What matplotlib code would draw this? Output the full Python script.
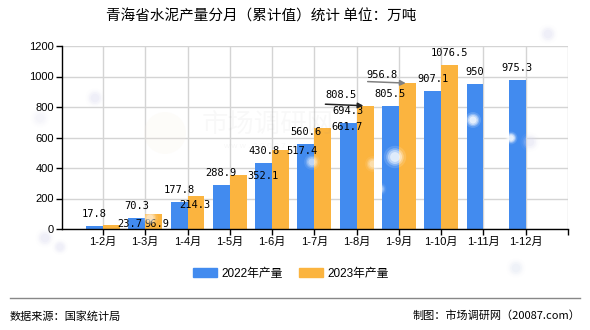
import numpy as np
import matplotlib
matplotlib.use("Agg")
import matplotlib.pyplot as plt
from matplotlib.patches import Rectangle, Ellipse

plt.rcParams['font.family'] = ['Liberation Sans', 'Noto Sans CJK SC', 'DejaVu Sans']

# ---- data -------------------------------------------------------------
months = ['1-2月', '1-3月', '1-4月', '1-5月', '1-6月', '1-7月',
          '1-8月', '1-9月', '1-10月', '1-11月', '1-12月']
prod_2022 = [17.8, 70.3, 177.8, 288.9, 430.8, 560.6, 694.3, 805.5, 907.1, 950, 975.3]
prod_2023 = [23.7, 96.9, 214.3, 352.1, 517.4, 661.7, 808.5, 956.8, 1076.5, np.nan, np.nan]
series_names = ['2022年产量', '2023年产量']
y_ticks = [0, 200, 400, 600, 800, 1000, 1200]

title = '青海省水泥产量分月（累计值）统计 单位：万吨'
source_text = '数据来源：国家统计局'
credit_text = '制图：市场调研网（20087.com）'

# ---- styling ----------------------------------------------------------
BLUE = '#428BEF'
ORANGE = '#FBB43F'
GRID = '#d4d4d4'
W, H = 590, 330
PX = 0.72  # points per pixel at dpi=100

# label nudges (pixels, x right / y up) for the 2023 labels that collide
shift_2023 = {0: (18, -11), 1: (3, -22), 2: (-1, -21), 3: (25, -13),
              4: (21, -13), 5: (24, -11), 6: (-24, -1), 7: (-25, -4)}
leader_2023 = {6: '#222222', 7: '#808080'}

fig = plt.figure(figsize=(W / 100, H / 100), dpi=100)
ax = fig.add_axes([62 / W, 1 - 229 / H, (568 - 62) / W, (229 - 46) / H])

x = np.arange(len(months))
w = 0.40
ax.bar(x - w / 2, prod_2022, width=w, color=BLUE, zorder=3)
ax.bar(x + w / 2, prod_2023, width=w, color=ORANGE, zorder=3)

ax.set_xlim(-0.97, 11.0)
ax.set_ylim(0, 1200)
ax.set_yticks(y_ticks)
ax.set_yticklabels([str(t) for t in y_ticks])
ax.set_xticks(np.arange(len(months) + 1))
ax.set_xticklabels(months + [''])
ax.tick_params(axis='both', labelsize=8, length=4, width=1, color='black', pad=2)
ax.grid(True, color=GRID, linewidth=1, zorder=0)
for s in ['top', 'right']:
    ax.spines[s].set_visible(False)
for s in ['left', 'bottom']:
    ax.spines[s].set_color('black')
    ax.spines[s].set_linewidth(1)
    ax.spines[s].set_zorder(4)

lab_font = dict(family='DejaVu Sans Mono', fontsize=7.5, color='black', zorder=6)


def fmt(v):
    return f'{v:g}'


for i, v in enumerate(prod_2022):
    ax.annotate(fmt(v), (x[i] - w / 2, v), xytext=(0, 12 * PX),
                textcoords='offset points', ha='center', va='center', **lab_font)

for i, v in enumerate(prod_2023):
    if np.isnan(v):
        continue
    dx, dy = shift_2023.get(i, (0, 0))
    ax.annotate(fmt(v), (x[i] + w / 2, v), xytext=(dx * PX, (12 + dy) * PX),
                textcoords='offset points', ha='center', va='center', **lab_font)
    if i in leader_2023:
        ax.annotate('', xy=(x[i] + 0.16, v), xycoords='data',
                    xytext=(-38 * PX, 1.5 * PX), textcoords='offset points',
                    arrowprops=dict(arrowstyle='-|>', color=leader_2023[i], lw=1.1,
                                    mutation_scale=8, shrinkA=0, shrinkB=0),
                    zorder=6)


def blob(px, py, r, color, alpha, z=7):
    """Round patch placed in figure pixels."""
    fig.patches.append(Ellipse((px / W, 1 - py / H), 2 * r / W, 2 * r / H,
                               transform=fig.transFigure, color=color, alpha=alpha,
                               zorder=z, lw=0))


# faint brand watermark behind the bars
blob(165, 133, 21, '#f8efe2', 0.18, z=1)
fig.text(268 / W, 1 - 124 / H, '市场调研网', fontsize=19, color='#888888', alpha=0.05,
         ha='center', va='center', family=['Noto Sans CJK SC'], zorder=1)
fig.text(268 / W, 1 - 147 / H, 'w w w . 2 0 0 8 7 . c o m', fontsize=6, color='#888888',
         alpha=0.06, ha='center', va='center', zorder=1)

# soft decorative glows
glows = [(395, 157, 7, '#ffffff', 0.55), (373, 164, 5, '#ffffff', 0.3),
         (380, 189, 4, '#ffffff', 0.3), (473, 120, 5, '#ffffff', 0.6),
         (511, 138, 4, '#ffffff', 0.6), (530, 142, 6, '#dcdcf0', 0.22),
         (312, 162, 5, '#ffffff', 0.35), (150, 218, 5, '#ffffff', 0.35),
         (95, 98, 6, '#dcdcf0', 0.2), (548, 34, 6, '#dcdcf0', 0.2),
         (45, 238, 6, '#dcdcf0', 0.2), (60, 247, 5, '#dcdcf0', 0.2),
         (516, 268, 6, '#dce2f2', 0.2), (40, 118, 6, '#eaeaf6', 0.2)]
for gx, gy, gr, gc, ga in glows:
    for k, f in enumerate([1.6, 1.25, 1.0, 0.7]):
        blob(gx, gy, gr * f, gc, ga * (0.25 + 0.25 * k))

# title
fig.text(261 / W, 1 - 17 / H, title, fontsize=10.5, ha='center', va='center',
         family=['Noto Sans CJK SC'])

# legend
handles = [Rectangle((0, 0), 1, 1, color=BLUE), Rectangle((0, 0), 1, 1, color=ORANGE)]
fig.legend(handles, series_names, loc='center', bbox_to_anchor=(291 / W, 1 - 274 / H),
           ncol=2, frameon=False, fontsize=8.5, handlelength=2.0, handleheight=0.8,
           handletextpad=0.4, columnspacing=1.4)

# footer
fig.add_artist(plt.Line2D([10 / W, 580 / W], [1 - 298 / H] * 2, color='#888888',
                          lw=1, transform=fig.transFigure))
fig.text(10 / W, 1 - 316 / H, source_text, fontsize=8, ha='left', va='center',
         family=['Noto Sans CJK SC'])
fig.text(580 / W, 1 - 316 / H, credit_text, fontsize=8, ha='right', va='center',
         family=['Noto Sans CJK SC'])

fig.savefig('out.png', dpi=100)
